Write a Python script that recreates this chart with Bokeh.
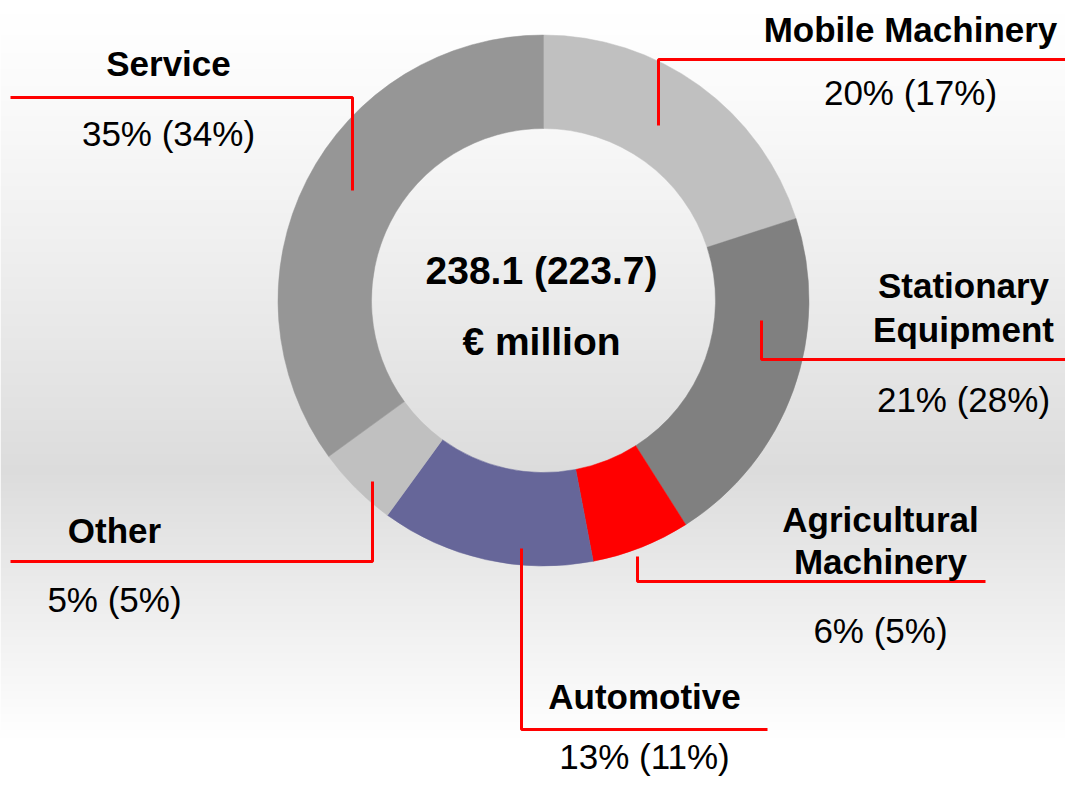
import numpy as np
from bokeh.plotting import figure
from bokeh.models import Range1d, ColumnDataSource
from bokeh.core.properties import value
from bokeh.embed import file_html
from bokeh.resources import INLINE

# ---------------- data ----------------
segments = ["Mobile Machinery", "Stationary Equipment", "Agricultural Machinery",
            "Automotive", "Other", "Service"]
name_lines = [["Mobile Machinery"], ["Stationary", "Equipment"], ["Agricultural", "Machinery"],
              ["Automotive"], ["Other"], ["Service"]]
shares = [20, 21, 6, 13, 5, 35]          # current year, %
prev_shares = [17, 28, 5, 11, 5, 34]     # previous year, %
colors = ["#c0c0c0", "#808080", "#ff0000", "#666699", "#c0c0c0", "#969696"]
total = 238.1
prev_total = 223.7
unit = "€ million"

# ---------------- layout (reference pixel space) ----------------
W, H = 1065, 777
CX, CY = 543, 300
R_OUT, R_IN = 265.5, 172
FONT = "Liberation Sans"
FS_PX, FS_C_PX = 35, 39
FS = f"{FS_PX}px"
FS_C = f"{FS_C_PX}px"
SHIFT = 0.37  # baseline correction (fraction of font size) for svg text placement

# label centre x, name baselines, value baseline
label_cx = [910, 963, 880, 644, 114, 168]
name_base = [[42], [298, 342], [532, 574], [709], [543], [76]]
value_base = [105, 412, 643, 769, 612, 146]
leaders = [
    [(658, 125), (658, 59), (1081, 59)],
    [(761, 320), (761, 359), (1081, 359)],
    [(637, 556), (637, 581), (985, 581)],
    [(521, 548), (521, 729), (767, 729)],
    [(372, 481), (372, 561), (10, 561)],
    [(352, 190), (352, 97), (10, 97)],
]

p = figure(width=W, height=H, output_backend="svg", toolbar_location=None,
           x_range=Range1d(0, W), y_range=Range1d(-H, 0),
           min_border=0, outline_line_color=None)
p.axis.visible = False
p.grid.visible = False
p.background_fill_color = "white"
p.border_fill_color = "white"

# background vertical gradient: white -> light grey (~y 470) -> white
def shade(y):
    if y <= 470:
        return 255 - (255 - 220) * (y / 470.0) ** 1.2
    t = min(1.0, (y - 470) / 270.0)
    return 220 + (255 - 220) * t
rows = [int(round(shade(y))) for y in range(H, -1, -1)]  # bottom -> top
img = np.zeros((len(rows), 2), dtype=np.uint32)
view = img.view(dtype=np.uint8).reshape((len(rows), 2, 4))
for i, g in enumerate(rows):
    view[i, :, 0] = g
    view[i, :, 1] = g
    view[i, :, 2] = g
    view[i, :, 3] = 255
p.image_rgba(image=[img], x=0, y=-(H + 1), dw=W, dh=len(rows))

# donut
cum = np.concatenate([[0], np.cumsum(shares)])
tot = float(sum(shares))
start = np.pi / 2 - 2 * np.pi * cum[:-1] / tot
end = np.pi / 2 - 2 * np.pi * cum[1:] / tot
src = ColumnDataSource(dict(start=start, end=end, color=colors, seg=segments))
p.annular_wedge(x=CX, y=-CY, inner_radius=R_IN, outer_radius=R_OUT,
                start_angle="start", end_angle="end", direction="clock",
                fill_color="color", line_color="color", line_width=0.5, source=src)

# leader lines
for path in leaders:
    xs = [pt[0] for pt in path]
    yv = [-pt[1] for pt in path]
    p.line(xs, yv, line_color="#ff0000", line_width=3)

off = SHIFT * FS_PX
# labels
tx, ty, tt = [], [], []
for i in range(len(segments)):
    for line, b in zip(name_lines[i], name_base[i]):
        tx.append(label_cx[i]); ty.append(-(b - off)); tt.append(line)
p.text(x=tx, y=ty, text=tt, text_align="center", text_baseline="alphabetic",
       text_font=value(FONT), text_font_style="bold", text_font_size=FS, text_color="black")

vx, vy, vt = [], [], []
for i in range(len(segments)):
    vx.append(label_cx[i]); vy.append(-(value_base[i] - off))
    vt.append(f"{shares[i]}% ({prev_shares[i]}%)")
p.text(x=vx, y=vy, text=vt, text_align="center", text_baseline="alphabetic",
       text_font=value(FONT), text_font_style="normal", text_font_size=FS, text_color="black")

# centre text
offc = SHIFT * FS_C_PX
p.text(x=[541, 541], y=[-(284 - offc), -(355 - offc)], text=[f"{total} ({prev_total})", unit],
       text_align="center", text_baseline="alphabetic", text_font=value(FONT),
       text_font_style="bold", text_font_size=FS_C, text_color="black")

open("out.html", "w").write(file_html(p, INLINE))
